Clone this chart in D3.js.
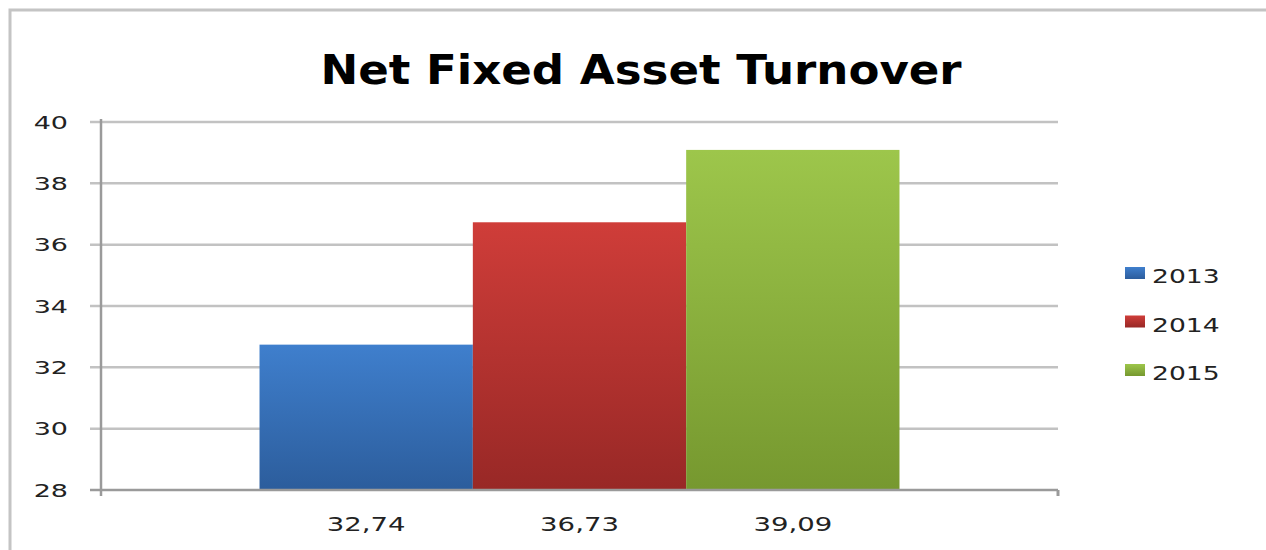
<!DOCTYPE html>
<html>
<head>
<meta charset="utf-8">
<script src="https://cdn.jsdelivr.net/npm/d3@7"></script>
<style>
  body { margin: 0; background: #fff; }
  text { font-family: "DejaVu Sans", sans-serif; }
</style>
</head>
<body>
<div id="chart"></div>
<script>
// chart data
var seriesNames = ["2013", "2014", "2015"];
var seriesValues = [32.74, 36.73, 39.09];
var valueLabels = ["32,74", "36,73", "39,09"];
var yTicks = [28, 30, 32, 34, 36, 38, 40];
var chartTitle = "Net Fixed Asset Turnover";

var colors = {
  "2013": ["#3f7fcd", "#2c5d9c"],
  "2014": ["#cf3d39", "#982826"],
  "2015": ["#9dc64b", "#76982f"]
};

// svg dimensions
var svg__Width = 1266;
var svg__Height = 550;

var plot = { left: 101, right: 1058, top: 122, bottom: 490 };

var svg = d3.select("#chart")
  .append("svg")
  .attr("width", svg__Width)
  .attr("height", svg__Height);

// gradients for the bars
var defs = svg.append("defs");
seriesNames.forEach(function(s) {
  var g = defs.append("linearGradient")
    .attr("id", "grad" + s)
    .attr("x1", 0).attr("y1", 0).attr("x2", 0).attr("y2", 1);
  g.append("stop").attr("offset", "0%").attr("stop-color", colors[s][0]);
  g.append("stop").attr("offset", "100%").attr("stop-color", colors[s][1]);
});

// outer frame (top and left edge visible)
svg.append("path")
  .attr("d", "M10,550 L10,10 L1266,10")
  .attr("fill", "none")
  .attr("stroke", "#c4c4c4")
  .attr("stroke-width", 3);

// helper: horizontally stretched text
function stretchedText(sel, x, y, txt, size, sx, anchor, weight, fill) {
  return sel.append("text")
    .attr("transform", `translate(${x},${y}) scale(${sx},1)`)
    .attr("text-anchor", anchor)
    .attr("font-size", size)
    .attr("font-weight", weight)
    .attr("fill", fill)
    .text(txt);
}

// title
stretchedText(svg, 641, 84, chartTitle, 41, 1.1, "middle", "bold", "#000");

// scales
var x0 = d3.scaleBand()
  .domain(["all"])
  .range([plot.left, plot.right])
  .paddingInner(0)
  .paddingOuter(0.2477);

var x1 = d3.scaleBand()
  .domain(seriesNames)
  .range([0, x0.bandwidth()])
  .padding(0);

var y = d3.scaleLinear()
  .domain([28, 40])
  .range([plot.bottom, plot.top]);

// gridlines
svg.append("g")
  .selectAll("line")
  .data(yTicks.slice(1))
  .enter()
  .append("line")
  .attr("x1", plot.left - 11)
  .attr("x2", plot.right)
  .attr("y1", d => y(d))
  .attr("y2", d => y(d))
  .attr("stroke", "#c2c2c2")
  .attr("stroke-width", 2.5);

// y tick labels
var yLabels = svg.append("g");
yTicks.forEach(function(t) {
  stretchedText(yLabels, 68, y(t) + 6.5, t, 18, 1.5, "end", "normal", "#222");
});

// bars
svg.append("g")
  .selectAll("rect")
  .data(seriesNames)
  .enter()
  .append("rect")
  .attr("x", d => x0("all") + x1(d))
  .attr("y", (d, i) => y(seriesValues[i]))
  .attr("width", x1.bandwidth())
  .attr("height", (d, i) => plot.bottom - y(seriesValues[i]))
  .attr("fill", d => `url(#grad${d})`);

// axes lines
var axisColor = "#9a9a9a";
svg.append("line")
  .attr("x1", plot.left).attr("x2", plot.left)
  .attr("y1", plot.top - 3).attr("y2", plot.bottom + 6)
  .attr("stroke", axisColor).attr("stroke-width", 2.5);
svg.append("line")
  .attr("x1", plot.left - 11).attr("x2", plot.right)
  .attr("y1", plot.bottom).attr("y2", plot.bottom)
  .attr("stroke", axisColor).attr("stroke-width", 2.5);
svg.append("line")
  .attr("x1", plot.right).attr("x2", plot.right)
  .attr("y1", plot.bottom).attr("y2", plot.bottom + 6)
  .attr("stroke", axisColor).attr("stroke-width", 3);

// value labels below the axis
var xLabels = svg.append("g");
seriesNames.forEach(function(s, i) {
  var cx = x0("all") + x1(s) + x1.bandwidth() / 2;
  stretchedText(xLabels, cx, 531, valueLabels[i], 19, 1.45, "middle", "normal", "#222");
});

// legend
var legend = svg.append("g");
seriesNames.forEach(function(s, i) {
  var ly = 275 + i * 48.5;
  legend.append("rect")
    .attr("x", 1125)
    .attr("y", ly - 8)
    .attr("width", 20)
    .attr("height", 12)
    .attr("fill", `url(#grad${s})`);
  stretchedText(legend, 1152, ly + 8, s, 20, 1.33, "start", "normal", "#222");
});
</script>
</body>
</html>
